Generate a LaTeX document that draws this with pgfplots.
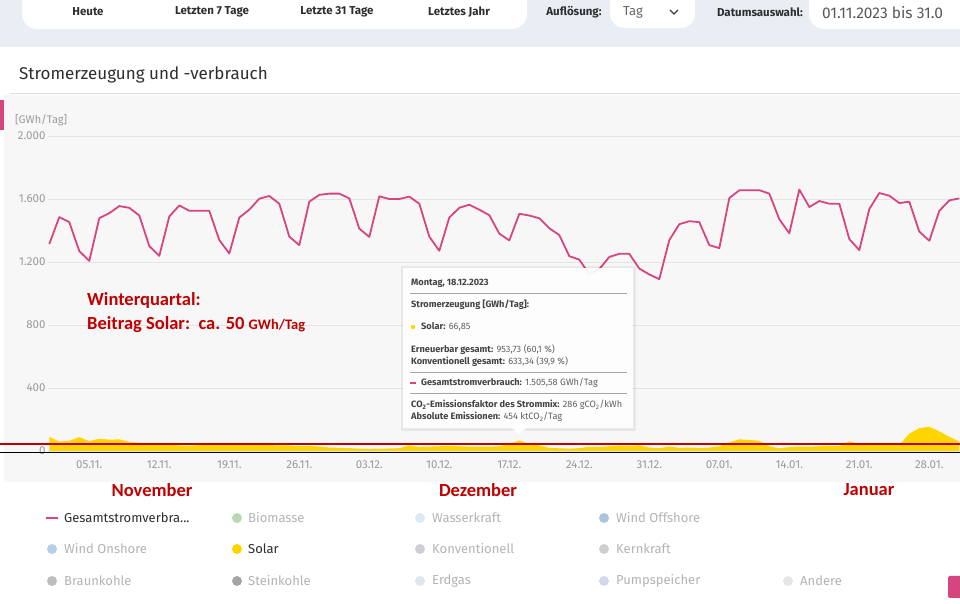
\documentclass[border=0pt]{standalone}
\usepackage{pgfplots}
\pgfplotsset{compat=1.18}
\usepackage{fontspec}
\setmainfont{Fira Sans}
\newfontfamily\annfont{Carlito}
\definecolor{pagebg}{HTML}{E9EEF4}
\definecolor{chartbg}{HTML}{F7F7F7}
\definecolor{gridc}{HTML}{E4E4E4}
\definecolor{tickc}{HTML}{9A9A9A}
\definecolor{pinkc}{HTML}{D6457F}
\definecolor{solarc}{HTML}{FFD500}
\definecolor{annred}{HTML}{C00000}
\definecolor{darktxt}{HTML}{2E2E2E}
\definecolor{legtxt}{HTML}{B4B4B4}
\definecolor{cBio}{HTML}{B9D7B2}
\definecolor{cWas}{HTML}{DCEAF6}
\definecolor{cOff}{HTML}{A9C6DC}
\definecolor{cOn}{HTML}{B4CFE8}
\definecolor{cKonv}{HTML}{CFCFD6}
\definecolor{cKern}{HTML}{CFCFCF}
\definecolor{cBraun}{HTML}{BDBDBD}
\definecolor{cStein}{HTML}{A4A4A4}
\definecolor{cGas}{HTML}{DDE7F0}
\definecolor{cPump}{HTML}{D6D6EC}
\definecolor{cAnd}{HTML}{E6E6E6}
\newcommand{\fs}[1]{\fontsize{#1}{#1}\selectfont}
\newcommand{\lb}[1]{\textcolor{darktxt!90}{\bfseries #1}}

\pgfplotstableread{
d v
0 1314
1 1485
2 1453
3 1269
4 1207
5 1478
6 1510
7 1555
8 1544
9 1495
10 1301
11 1239
12 1489
13 1559
14 1525
15 1525
16 1525
17 1339
18 1254
19 1482
20 1532
21 1602
22 1619
23 1570
24 1361
25 1307
26 1583
27 1626
28 1634
29 1634
30 1604
31 1412
32 1359
33 1617
34 1600
35 1600
36 1615
37 1570
38 1361
39 1271
40 1482
41 1544
42 1564
43 1532
44 1497
45 1380
46 1337
47 1506
48 1495
49 1478
50 1414
51 1371
52 1237
53 1215
54 1121
55 1155
56 1232
57 1252
58 1252
59 1158
60 1121
61 1091
62 1339
63 1440
64 1459
65 1453
66 1307
67 1288
68 1606
69 1655
70 1656
71 1656
72 1634
73 1472
74 1382
75 1660
76 1549
77 1587
78 1570
79 1570
80 1346
81 1275
82 1536
83 1638
84 1621
85 1574
86 1583
87 1393
88 1335
89 1525
90 1591
91 1604
}\verbrauch

\pgfplotstableread{
d v
0 90
1 60
2 65
3 88
4 62
5 78
6 72
7 74
8 58
9 52
10 50
11 50
12 40
13 35
14 33
15 38
16 42
17 45
18 45
19 44
20 42
21 40
22 38
23 35
24 35
25 30
26 32
27 28
28 22
29 20
30 18
31 15
32 14
33 15
34 16
35 18
36 35
37 25
38 28
39 30
40 32
41 30
42 28
43 27
44 27
45 30
46 45
47 66.85
48 45
49 35
50 20
51 17
52 15
53 18
54 27
55 25
56 30
57 34
58 32
59 36
60 22
61 18
62 28
63 20
64 22
65 20
66 22
67 30
68 55
69 74
70 70
71 65
72 30
73 17
74 25
75 28
76 27
77 30
78 32
79 30
80 62
81 45
82 42
83 48
84 52
85 38
86 110
87 145
88 154
89 125
90 90
91 60
}\solar

\begin{document}
\begin{tikzpicture}
\path[use as bounding box] (0,0) rectangle (960pt,604pt);
\clip (0,0) rectangle (960pt,604pt);
\begin{scope}[x=1pt,y=-1pt,shift={(0,604pt)}]
  % page backgrounds
  \fill[white] (0,0) rectangle (960,604);
  \fill[pagebg] (0,0) rectangle (960,47);
  \fill[chartbg] (4,95) rectangle (960,482);
  \draw[black!13, line width=0.8pt] (10,93) -- (960,93);
  \fill[pinkc] (0,100) rectangle (4,130);
  % top bar
  \fill[white, rounded corners=15pt] (22,-20) rectangle (527,29);
  \node[font=\fs{11.5}\bfseries, text=darktxt] at (88,12) {Heute};
  \node[font=\fs{11.5}\bfseries, text=darktxt] at (212,12) {Letzten 7 Tage};
  \node[font=\fs{11.5}\bfseries, text=darktxt] at (337,12) {Letzte 31 Tage};
  \node[font=\fs{11.5}\bfseries, text=darktxt] at (459,12) {Letztes Jahr};
  \node[font=\fs{11.5}\bfseries, text=darktxt] at (574,12) {Auflösung:};
  \fill[white, rounded corners=14pt] (610,-20) rectangle (695,28);
  \node[font=\fs{13}, text=black!60] at (633,12) {Tag};
  \draw[black!75, line width=1.1pt] (670,10) -- (674,14) -- (678,10);
  \node[font=\fs{11.5}\bfseries, text=darktxt] at (760,12) {Datumsauswahl:};
  \fill[white, rounded corners=15pt] (809,-20) rectangle (990,29);
  \node[font=\fs{15.5}, text=black!65, anchor=west, inner sep=0] at (822,13) {01.11.2023 bis 31.0};
  % title
  \node[font=\fs{17}, text=darktxt, anchor=west, inner sep=0] at (19,75) {Stromerzeugung und -verbrauch};
  \node[font=\fs{11}, text=tickc, anchor=west, inner sep=0] at (15,120) {[GWh/Tag]};
\end{scope}

\begin{axis}[
  at={(48pt,153pt)}, anchor=south west,
  scale only axis, width=912pt, height=315pt,
  xmin=-0.13, xmax=91.07, ymin=0, ymax=2000,
  axis line style={draw=none}, tick style={draw=none},
  ytick={0,400,800,1200,1600,2000},
  yticklabels={0,400,800,1.200,1.600,2.000},
  xtick={4,11,...,88},
  xticklabels={05.11.,12.11.,19.11.,26.11.,03.12.,10.12.,17.12.,24.12.,31.12.,07.01.,14.01.,21.01.,28.01.},
  ymajorgrids, grid style={draw=gridc, line width=0.8pt},
  tick label style={font=\fs{11.5}, text=tickc},
  yticklabel style={xshift=1pt},
  xticklabel style={yshift=-6pt},
  /pgf/number format/assume math mode=true,
  clip=false,
]
\addplot[fill=solarc, draw=none] table[x=d, y=v] {\solar} \closedcycle;
\addplot[pinkc, line width=1.8pt, line join=round, mark=none] table[x=d, y=v] {\verbrauch};
\end{axis}

\begin{scope}[x=1pt,y=-1pt,shift={(0,604pt)}]
  % annotation lines
  \draw[annred, line width=2pt] (0,444) -- (960,444);
  \draw[black, line width=1pt] (0,452.5) -- (960,452.5);
  % tooltip
  \fill[black, opacity=0.06] (401,266) rectangle (636,431);
  \fill[white, opacity=0.93] (403,268) rectangle (633,428);
  \fill[white, opacity=0.93] (512,428) -- (519,435) -- (526,428) -- cycle;
  \begin{scope}[every node/.style={anchor=west, inner sep=0, font=\fs{9.2}, text=black!62}]
    \node at (411,283) {\lb{Montag, 18.12.2023}};
    \draw[black!35, line width=0.8pt] (410,293) -- (627,293);
    \node at (411,305) {\lb{Stromerzeugung [GWh/Tag]:}};
    \fill[solarc] (413,327) circle (2.2);
    \node at (421,327) {\lb{Solar:} 66,85};
    \node at (411,350) {\lb{Erneuerbar gesamt:} 953,73 (60,1 \%)};
    \node at (411,362) {\lb{Konventionell gesamt:} 633,34 (39,9 \%)};
    \draw[black!35, line width=0.8pt] (410,372) -- (627,372);
    \draw[pinkc, line width=1.5pt] (410,383) -- (416,383);
    \node at (421,383) {\lb{Gesamtstromverbrauch:} 1.505,58 GWh/Tag};
    \draw[black!35, line width=0.8pt] (410,393) -- (627,393);
    \node at (411,405) {\lb{CO\textsubscript{2}-Emissionsfaktor des Strommix:} 286 gCO\textsubscript{2}/kWh};
    \node at (411,417) {\lb{Absolute Emissionen:} 454 ktCO\textsubscript{2}/Tag};
  \end{scope}
  % red annotations
  \node[anchor=west, inner sep=0, font=\annfont\fs{18.5}\bfseries, text=annred] at (87,300) {Winterquartal:};
  \node[anchor=west, inner sep=0, font=\annfont\fs{18.5}\bfseries, text=annred] at (87,325) {Beitrag Solar:\ \ ca. 50 {\fs{14.5}GWh/Tag}};
  \node[font=\annfont\fs{18.5}\bfseries, text=annred] at (152,490) {November};
  \node[font=\annfont\fs{18.5}\bfseries, text=annred] at (478,490) {Dezember};
  \node[font=\annfont\fs{18.5}\bfseries, text=annred] at (869,490) {Januar};
  % legend
  \begin{scope}[every node/.style={anchor=west, inner sep=0, font=\fs{13}, text=legtxt}]
    \draw[pinkc, line width=2pt] (46,518) -- (58,518);
    \node[text=darktxt] at (64,518) {Gesamtstromverbra...};
    \fill[cBio] (237,518) circle (5);
    \node at (248,518) {Biomasse};
    \fill[cWas] (420,518) circle (5);
    \node at (432,518) {Wasserkraft};
    \fill[cOff] (604,518) circle (5);
    \node at (616,518) {Wind Offshore};
    \fill[cOn] (52,549) circle (5);
    \node at (64,549) {Wind Onshore};
    \fill[solarc] (237,549) circle (5);
    \node[text=darktxt] at (248,549) {Solar};
    \fill[cKonv] (420,549) circle (5);
    \node at (432,549) {Konventionell};
    \fill[cKern] (604,549) circle (5);
    \node at (616,549) {Kernkraft};
    \fill[cBraun] (52,581) circle (5);
    \node at (64,581) {Braunkohle};
    \fill[cStein] (237,581) circle (5);
    \node at (248,581) {Steinkohle};
    \fill[cGas] (420,581) circle (5);
    \node at (432,581) {Erdgas};
    \fill[cPump] (604,581) circle (5);
    \node at (616,581) {Pumpspeicher};
    \fill[cAnd] (788,581) circle (5);
    \node at (800,581) {Andere};
  \end{scope}
  \fill[pinkc, rounded corners=2pt] (948,576) rectangle (965,598);
\end{scope}
\end{tikzpicture}
\end{document}
